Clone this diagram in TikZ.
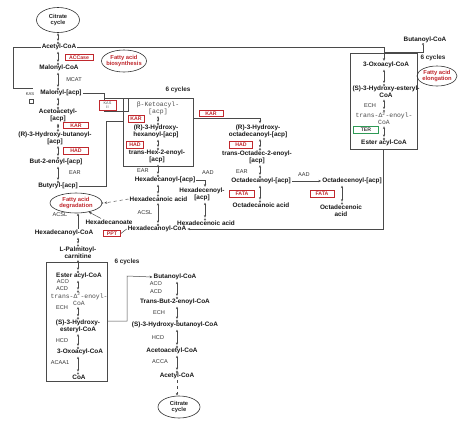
\documentclass[tikz,border=0pt]{standalone}
\usepackage{fontspec}
\setmainfont{Liberation Sans}
\newfontfamily\monof{Liberation Mono}
\usetikzlibrary{arrows.meta,shapes.geometric}
\definecolor{rc}{HTML}{C0282D}
\definecolor{gc}{HTML}{2E9A55}
\definecolor{lc}{HTML}{4A4A4A}
\newcommand{\rxa}[2]{\draw[rx] #1 -- #2; \draw[oc] #2 circle (0.9pt);}
\begin{document}
\begin{tikzpicture}[x=1pt,y=-1pt,
 cpd/.style={font=\fontsize{6.4}{7}\selectfont\bfseries, text=black!90, inner sep=1pt, align=center},
 enz/.style={font=\fontsize{5.6}{6}\selectfont, text=black!80, inner sep=0.5pt},
 mono/.style={font=\monof\fontsize{6.4}{7}\selectfont, text=black!70, inner sep=1pt, align=center},
 rbox/.style={draw=rc, text=rc, line width=0.7pt, font=\fontsize{5.2}{5.5}\selectfont\bfseries, inner xsep=1pt, inner ysep=0.5pt, minimum height=6.5pt},
 gbox/.style={rbox, draw=gc, text=black!75},
 ell/.style={ellipse, draw=black!80, line width=0.6pt, inner sep=0pt},
 etxt/.style={font=\fontsize{5.8}{6.6}\selectfont\bfseries, text=rc, align=center, inner sep=0pt},
 cbox/.style={draw=lc, line width=0.6pt, inner sep=0pt},
 ln/.style={draw=lc, line width=0.5pt},
 rx/.style={lc, line width=0.45pt, {Stealth[length=2.6pt,width=2.2pt]}-{Stealth[length=2.6pt,width=2.2pt]}, shorten >=1.8pt, shorten <=0.4pt},
 ar/.style={lc, line width=0.5pt, -{Stealth[length=2.8pt,width=2.4pt]}},
 oc/.style={draw=lc, line width=0.4pt, fill=white},
 cyc/.style={font=\fontsize{6.4}{7}\selectfont\bfseries, text=black!85}
]
\fill[white] (0,0) rectangle (474,424);
\useasboundingbox (0,0) rectangle (474,424);

% column helpers
\coordinate (c58) at (58,0);
\coordinate (c78) at (78,0);
\coordinate (c158) at (158,0);
\coordinate (c177) at (177,0);
\coordinate (c205) at (205,0);
\coordinate (c260) at (260,0);
\coordinate (c342) at (342,0);
\coordinate (c384) at (384,0);

% boxes
\node[cbox, minimum width=70pt, minimum height=68pt] (mbox) at (158,132) {};
\node[cbox, minimum width=67pt, minimum height=96pt] (ebox) at (383.5,101) {};
\node[cbox, minimum width=61pt, minimum height=119pt] (lbox) at (76.5,321.5) {};
\node[cyc] (cy1) at (178,90) {6 cycles};
\node[cyc] (cy2) at (433,58) {6 cycles};
\node[cyc] (cy3) at (127,262) {6 cycles};

% ellipses
\node[ell, minimum width=43pt, minimum height=25pt] (cit1) at (58,20) {};
\node[etxt, text=black!85] (cit1t) at (58,20) {Citrate\\cycle};
\node[ell, minimum width=45pt, minimum height=22pt] (fab) at (124,61) {};
\node[etxt] (fabt) at (124,61) {Fatty acid\\biosynthesis};
\node[ell, minimum width=40pt, minimum height=20pt] (fae) at (437,76) {};
\node[etxt] (faet) at (437,76) {Fatty acid\\elongation};
\node[ell, minimum width=52pt, minimum height=20pt] (fad) at (76,203) {};
\node[etxt] (fadt) at (76,203) {Fatty acid\\degradation};
\node[ell, minimum width=42pt, minimum height=22pt] (cit2) at (179,407) {};
\node[etxt, text=black!85] (cit2t) at (179,407) {Citrate\\cycle};

% left biosynthesis column
\node[cpd] (acoa1) at (59,47) {Acetyl-CoA};
\node[cpd] (mcoa) at (59,68) {Malonyl-CoA};
\node[cpd] (macp) at (61,93) {Malonyl-[acp]};
\node[cpd] (aacp) at (58,115.5) {Acetoacetyl-\\{[acp]}};
\node[cpd] (hbacp) at (55,138) {(R)-3-Hydroxy-butanoyl-\\{[acp]}};
\node[cpd] (bacp) at (56,162) {But-2-enoyl-[acp]};
\node[cpd] (byacp) at (58,186) {Butyryl-[acp]};
\node[rbox, minimum width=28pt] (accase) at (79,57.5) {ACCase};
\node[enz] (mcat) at (74,80) {MCAT};
\node[rbox, minimum width=25pt] (kar1) at (76,125.5) {KAR};
\node[rbox, minimum width=25pt] (had1) at (76,151) {HAD};
\node[enz] (ear1) at (75,173) {EAR};
\node[enz, font=\fontsize{4.2}{4.5}\selectfont] (kas3) at (30,94) {KAS};
\node[draw=lc, line width=0.4pt, minimum size=3.6pt, inner sep=0pt] (kas3b) at (31,101) {};
\draw[ln] (104,98) rectangle (128,111);
\node[rbox, minimum width=17pt, minimum height=10pt, text=black!70, font=\fontsize{3.8}{4}\selectfont, align=center, fill=white] (kas2) at (107.5,105) {KAS\\II};

\rxa{(cit1.south -| c58)}{(acoa1.north -| c58)}
\rxa{(acoa1.south -| c58)}{(mcoa.north -| c58)}
\rxa{(mcoa.south -| c58)}{(macp.north -| c58)}
\rxa{(macp.south -| c58)}{(aacp.north -| c58)}
\rxa{(aacp.south -| c58)}{(hbacp.north -| c58)}
\rxa{(hbacp.south -| c58)}{(bacp.north -| c58)}
\rxa{(bacp.south -| c58)}{(byacp.north -| c58)}

\coordinate (jA) at (384,47);
\coordinate (jB) at (13,47);
\coordinate (jC) at (13,88);
\coordinate (jD) at (33,88);
\coordinate (jE) at (104,93);
\coordinate (jF) at (104,98);
\coordinate (jG) at (106,186);
\coordinate (jH) at (106,121);
\coordinate (jJ) at (260,118);
\coordinate (jK) at (423,52);
\coordinate (jL) at (384,52);
\coordinate (jN) at (127,321);
\coordinate (jO) at (127,276);

% middle box
\node[mono] (bk) at (158,108) {β-Ketoacyl-\\{[acp]}};
\node[rbox, minimum width=16pt] (kar2) at (136,119) {KAR};
\node[cpd] (hh) at (156,131.5) {(R)-3-Hydroxy-\\hexanoyl-[acp]};
\node[rbox, minimum width=17pt] (had2) at (135,145) {HAD};
\node[cpd] (th) at (157,156.5) {trans-Hex-2-enoyl-\\{[acp]}};
\node[enz] (ear2) at (143,171) {EAR};
\node[cpd] (hdacp) at (165,180) {Hexadecanoyl-[acp]};
\node[cpd] (hda) at (158.5,199) {Hexadecanoic acid};
\node[enz] (acsl2) at (145,213) {ACSL};
\node[cpd] (hdcoa2) at (157,229) {Hexadecanoyl-CoA};
\node[enz] (aad1) at (208,173) {AAD};
\node[cpd] (hdeacp) at (202,194.5) {Hexadecenoyl-\\{[acp]}};
\node[cpd] (hdea) at (206,223) {Hexadecenoic acid};

% right middle
\node[rbox, minimum width=24pt] (kar3) at (211,113.5) {KAR};
\node[cpd] (h18) at (258,131) {(R)-3-Hydroxy-\\octadecanoyl-[acp]};
\node[rbox, minimum width=23pt] (had3) at (241,145) {HAD};
\node[cpd] (t18) at (257,157) {trans-Octadec-2-enoyl-\\{[acp]}};
\node[enz] (ear3) at (242,172) {EAR};
\node[cpd] (o18acp) at (261,181) {Octadecanoyl-[acp]};
\node[rbox, minimum width=25pt] (fata1) at (242,194) {FATA};
\node[cpd] (o18a) at (261,205) {Octadecanoic acid};
\node[enz] (aad2) at (304,175) {AAD};
\node[cpd] (o18eacp) at (352,181) {Octadecenoyl-[acp]};
\node[rbox, minimum width=24pt] (fata2) at (322,194) {FATA};
\node[cpd] (o18ea) at (341,210.5) {Octadecenoic\\acid};

% elongation box
\node[cpd] (butcoa1) at (425,40) {Butanoyl-CoA};
\node[cpd] (oxo) at (386,65) {3-Oxoacyl-CoA};
\node[cpd] (she) at (386,92) {(S)-3-Hydroxy-esteryl-\\CoA};
\node[enz] (ech1) at (370,106) {ECH};
\node[mono] (te) at (384,118.5) {trans-Δ\textsuperscript{2}-enoyl-\\CoA};
\node[gbox, minimum width=25pt] (ter) at (366,130) {TER};
\node[cpd] (eac) at (384,143) {Ester acyl-CoA};

% degradation
\node[cpd] (hdcoa1) at (64,233) {Hexadecanoyl-CoA};
\node[cpd] (hxa) at (109,222) {Hexadecanoate};
\node[rbox, minimum width=17pt] (ppt) at (112,233.5) {PPT};
\node[enz] (acsl1) at (60,215) {ACSL};

% left bottom box
\node[cpd] (lpc) at (78,252.5) {L-Palmitoyl-\\carnitine};
\node[cpd] (eacoa) at (79,276) {Ester acyl-CoA};
\node[enz] (aco1) at (63,281.5) {ACO};
\node[enz] (acd1) at (62,288.5) {ACD};
\node[mono] (te2) at (79,299) {trans-Δ\textsuperscript{2}-enoyl-\\CoA};
\node[enz] (ech2) at (62,308) {ECH};
\node[cpd] (she2) at (78,326) {(S)-3-Hydroxy-\\esteryl-CoA};
\node[enz] (hcd1) at (62,341) {HCD};
\node[cpd] (oxo2) at (80,352) {3-Oxoacyl-CoA};
\node[enz] (acaa1) at (60,363) {ACAA1};
\node[cpd] (coa) at (79,377) {CoA};

% bottom right column
\node[cpd] (butcoa2) at (175,277) {Butanoyl-CoA};
\node[enz] (aco2) at (156,284) {ACO};
\node[enz] (acd2) at (156,292) {ACD};
\node[cpd] (tb) at (175,302) {Trans-But-2-enoyl-CoA};
\node[enz] (ech3) at (159,313) {ECH};
\node[cpd] (shb) at (175,325) {(S)-3-Hydroxy-butanoyl-CoA};
\node[enz] (hcd2) at (158,338) {HCD};
\node[cpd] (aac) at (172,351) {Acetoacetyl-CoA};
\node[enz] (acca) at (160,362) {ACCA};
\node[cpd] (acoa2) at (177,376) {Acetyl-CoA};

% ---- connectors ----
\draw[ln] (acoa1.east) -- (jA);
\draw[ar] (jA) -- (jA |- oxo.north);
\draw[ln] (acoa1.west) -- (jB) -- (jC) -- (jD);
\draw[ln] (macp.east) -- (jE) -- (jF);
\draw[ln] (byacp.east) -- (jG) -- (jH) -- (mbox.west |- jH);
\draw[ar] (mbox.east |- jJ) -- (jJ) -- (h18.north -| c260);

\rxa{(bk.south -| c158)}{(hh.north -| c158)}
\rxa{(hh.south -| c158)}{(th.north -| c158)}
\rxa{(th.south -| c158)}{(hdacp.north -| c158)}
\rxa{(hdacp.south -| c158)}{(hda.north -| c158)}
\rxa{(hda.south -| c158)}{(hdcoa2.north -| c158)}
\draw[ar] (hdacp.east) -- (hdacp.east -| c205) -- (hdeacp.north -| c205);
\rxa{(hdeacp.south -| c205)}{(hdea.north -| c205)}

\rxa{(h18.south -| c260)}{(t18.north -| c260)}
\rxa{(t18.south -| c260)}{(o18acp.north -| c260)}
\rxa{(o18acp.south -| c260)}{(o18a.north -| c260)}
\draw[ar] (o18acp.east) -- (o18eacp.west);
\rxa{(o18eacp.south -| c342)}{(o18ea.north -| c342)}

\draw[oc] (butcoa1.south -| jK) circle (0.9pt);
\draw[ln] ([yshift=-0.9pt]butcoa1.south -| jK) -- (jK) -- (jL);
\rxa{(oxo.south -| c384)}{(she.north -| c384)}
\rxa{(she.south -| c384)}{(te.north -| c384)}
\rxa{(te.south -| c384)}{(eac.north -| c384)}
\draw[ar] (ebox.south) -- (ebox.south |- hdcoa2.east) -- (hdcoa2.east);

\draw[ln] (ppt.east) -- (hdcoa2.west);
\draw[ar] ([xshift=-8pt]hxa.north) -- (fad.-35);
\draw[ar] (hdcoa1.north -| c78) -- (fad.south -| c78);
\draw[ar, dashed] (hda.west) -- ([xshift=2pt]fad.east);
\draw[oc] (fad.east) circle (0.9pt);

\rxa{(hdcoa1.south -| c78)}{(lpc.north -| c78)}
\rxa{(lpc.south -| c78)}{(eacoa.north -| c78)}
\rxa{(eacoa.south -| c78)}{(te2.north -| c78)}
\rxa{(te2.south -| c78)}{(she2.north -| c78)}
\rxa{(she2.south -| c78)}{(oxo2.north -| c78)}
\rxa{(oxo2.south -| c78)}{(coa.north -| c78)}
\draw[ar] (lbox.east |- jN) -- (jN) -- (jO) -- (butcoa2.west);

\rxa{(butcoa2.south -| c177)}{(tb.north -| c177)}
\rxa{(tb.south -| c177)}{(shb.north -| c177)}
\rxa{(shb.south -| c177)}{(aac.north -| c177)}
\rxa{(aac.south -| c177)}{(acoa2.north -| c177)}
\draw[ar, dashed] (acoa2.south -| c177) -- (cit2.north -| c177);
\end{tikzpicture}
\end{document}
